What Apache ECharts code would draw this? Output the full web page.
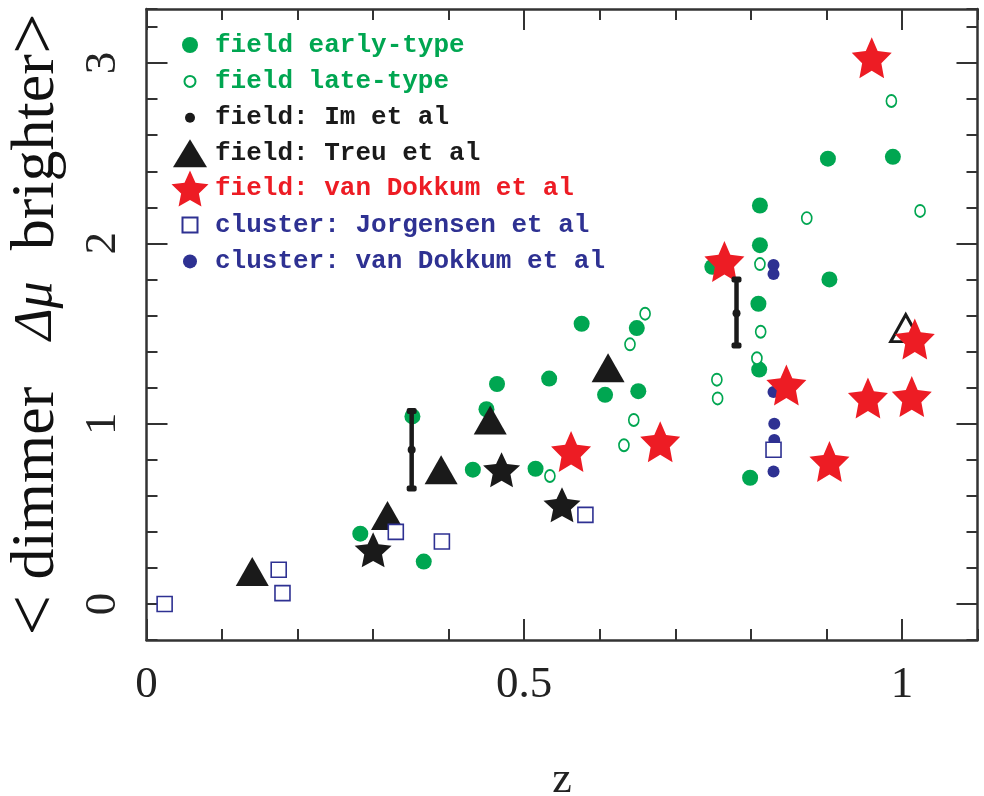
<!DOCTYPE html>
<html><head><meta charset="utf-8">
<script src="https://cdn.jsdelivr.net/npm/echarts@6/dist/echarts.min.js"></script>
<style>html,body{margin:0;padding:0;background:#fff}#c{width:984px;height:796px}</style>
</head><body><div id="c"></div>
<script>
// ---- data ----
const legendNames = ['field early-type','field late-type','field: Im et al','field: Treu et al','field: van Dokkum et al','cluster: Jorgensen et al','cluster: van Dokkum et al'];
const xTickLabels = [0, 0.5, 1];
const yTickLabels = [0, 1, 2, 3];

const earlyZ = [0.283,0.367,0.352,0.432,0.450,0.464,0.515,0.533,0.576,0.607,0.649,0.651,0.749,0.799,0.810,0.811,0.812,0.812,0.902,0.904,0.988];
const earlyY = [0.39,0.235,1.04,0.745,1.08,1.22,0.75,1.25,1.554,1.16,1.53,1.18,1.87,0.70,1.665,1.30,1.99,2.21,2.47,1.80,2.48];

const lateZ = [0.534,0.632,0.645,0.640,0.660,0.755,0.756,0.808,0.813,0.812,0.874,0.986,1.024];
const lateY = [0.71,0.88,1.02,1.44,1.61,1.244,1.14,1.363,1.51,1.885,2.14,2.79,2.18];

const imZ  = [0.351,0.781];
const imY  = [0.855,1.613];
const imLo = [0.64,1.433];
const imHi = [1.07,1.80];

const treuZ = [0.140,0.319,0.390,0.455,0.611];
const treuY = [0.18,0.49,0.745,1.02,1.31];
const treuOpenZ = [1.005];
const treuOpenY = [1.53];

const blackStarZ = [0.300,0.470,0.550];
const blackStarY = [0.30,0.745,0.55];

const vdFieldZ = [0.562,0.680,0.765,0.847,0.904,0.955,0.960,1.013,1.017];
const vdFieldY = [0.846,0.90,1.90,1.215,0.79,1.143,3.03,1.15,1.47];

const jorgZ = [0.024,0.175,0.180,0.330,0.391,0.581,0.830];
const jorgY = [0.0,0.19,0.06,0.40,0.346,0.494,0.855];

const vdClusterZ = [0.830,0.830,0.830,0.831,0.831,0.830];
const vdClusterY = [1.88,1.83,1.175,1.0,0.91,0.734];

// ---- styling ----
const GREEN = '#00a651', RED = '#ed1c24', BLUE = '#2e3192', BLACK = '#1a1a1a', AX = '#333';
const zip = (a, b) => a.map((v, i) => [v, b[i]]);

const starPts = [[50,0],[64.11,30.58],[97.55,34.55],[72.83,57.42],[79.39,90.45],[50,74],[20.61,90.45],[27.17,57.42],[2.45,34.55],[35.89,30.58]];
const STAR = 'path://M' + starPts.map(p => p.join(',')).join(' L') + ' Z';

// legend icons: padded paths inside a 40x36 box so they keep their relative sizes
const BW = 40, BH = 36, CX = 20, CY = 18;
const pad = 'M0 0 M' + BW + ' ' + BH + ' ';
const circ = r => 'path://' + pad + `M${CX-r} ${CY} A${r} ${r} 0 1 0 ${CX+r} ${CY} A${r} ${r} 0 1 0 ${CX-r} ${CY} Z`;
const tri = (w, h) => 'path://' + pad + `M${CX} ${CY-h/2} L${CX+w/2} ${CY+h/2} L${CX-w/2} ${CY+h/2} Z`;
const sq = s => 'path://' + pad + `M${CX-s/2} ${CY-s/2} L${CX+s/2} ${CY-s/2} L${CX+s/2} ${CY+s/2} L${CX-s/2} ${CY+s/2} Z`;
const star = (w, h) => 'path://' + pad + 'M' + starPts.map(p => {
  const nx = (p[0]-2.45)/95.1, ny = p[1]/90.45;
  return (CX - w/2 + nx*w).toFixed(2) + ' ' + (CY - h/2 + ny*h).toFixed(2);
}).join(' L') + ' Z';

const legendIcons = [circ(8), circ(5.5), circ(5), tri(34,28), star(37,36), sq(15), circ(7)];
const legendColors = [GREEN, GREEN, BLACK, BLACK, RED, BLUE, BLUE];

const tickFont = {fontFamily: 'Liberation Serif', fontSize: 45, color: '#222'};
const lineS = {color: AX, width: 2.5};
const tickS = {color: AX, width: 2};

function minorAxis(pos, extra) {
  return Object.assign({
    type: 'value', position: pos,
    axisLine: {show: true, onZero: false, lineStyle: lineS},
    axisTick: {show: true, inside: true, length: 11, lineStyle: tickS},
    axisLabel: {show: false}, splitLine: {show: false}
  }, extra);
}
function majorAxis(pos, vals, labelOpt, extra) {
  return Object.assign({
    type: 'value', position: pos,
    axisLine: {show: false, onZero: false},
    axisTick: {show: true, inside: true, length: 21, lineStyle: tickS, customValues: vals},
    axisLabel: Object.assign({customValues: vals}, labelOpt),
    splitLine: {show: false}
  }, extra);
}

const xr = {min: 0, max: 1.1};
const yr = {min: -0.2, max: 3.3};

const option = {
  animation: false,
  backgroundColor: '#fff',
  grid: {left: 146.5, right: 6.5, top: 9, bottom: 156, outerBoundsMode: 'none', containLabel: false},
  legend: {
    orient: 'vertical', left: 169, top: 27, padding: 0,
    itemWidth: BW, itemHeight: BH, itemGap: -0.6,
    textStyle: {fontFamily: 'Liberation Mono', fontSize: 26},
    data: legendNames.map((n, i) => ({
      name: n, icon: legendIcons[i],
      textStyle: {color: legendColors[i], fontWeight: 'bold', fontFamily: 'Liberation Mono', fontSize: 26}
    }))
  },
  xAxis: [
    minorAxis('bottom', Object.assign({interval: 0.1}, xr)),
    majorAxis('bottom', xTickLabels, Object.assign({show: true, margin: 23}, tickFont), Object.assign({
      name: 'z', nameLocation: 'middle', nameGap: 118,
      nameTextStyle: {fontFamily: 'Liberation Serif', fontSize: 44, color: '#222'}
    }, xr)),
    minorAxis('top', Object.assign({interval: 0.1}, xr)),
    majorAxis('top', xTickLabels, {show: false}, xr)
  ],
  yAxis: [
    minorAxis('left', Object.assign({interval: 0.2}, yr)),
    majorAxis('left', yTickLabels, Object.assign({show: true, rotate: 90, margin: 21}, tickFont), Object.assign({
      name: '{c|<}{a| dimmer   }{b|Δμ}{a|  brighter}{c|>}',
      nameLocation: 'middle', nameGap: 52, nameRotate: 90,
      nameTextStyle: {
        color: '#111',
        rich: {
          a: {fontFamily: 'Liberation Serif', fontSize: 62, color: '#111'},
          b: {fontFamily: 'Liberation Serif', fontSize: 54, fontStyle: 'italic', color: '#111'},
          c: {fontFamily: 'Liberation Serif', fontSize: 72, color: '#111'}
        }
      }
    }, yr)),
    minorAxis('right', Object.assign({interval: 0.2}, yr)),
    majorAxis('right', yTickLabels, {show: false}, yr)
  ],
  series: [
    {name: 'field early-type', type: 'scatter', z: 2, symbol: 'circle', symbolSize: 16,
     itemStyle: {color: GREEN, opacity: 1}, data: zip(earlyZ, earlyY)},
    {name: 'field late-type', type: 'scatter', z: 3, symbol: 'circle', symbolSize: [10, 12],
     itemStyle: {color: '#fff', borderColor: GREEN, borderWidth: 1.8, opacity: 1}, data: zip(lateZ, lateY)},
    {name: 'cluster: van Dokkum et al', type: 'scatter', z: 4, symbol: 'circle', symbolSize: 12,
     itemStyle: {color: BLUE, opacity: 1}, data: zip(vdClusterZ, vdClusterY)},
    {name: 'field: Treu et al', type: 'scatter', z: 5, symbol: 'triangle', symbolSize: [33, 29],
     itemStyle: {color: BLACK, opacity: 1}, data: zip(treuZ, treuY)},
    {name: 'field: Treu et al', type: 'scatter', z: 5, symbol: 'triangle', symbolSize: [30, 27],
     itemStyle: {color: '#fff', borderColor: BLACK, borderWidth: 3, opacity: 1}, data: zip(treuOpenZ, treuOpenY)},
    {name: 'field (black stars)', type: 'scatter', z: 6, symbol: STAR, symbolSize: [37, 35],
     itemStyle: {color: BLACK, opacity: 1}, data: zip(blackStarZ, blackStarY)},
    {name: 'field: van Dokkum et al', type: 'scatter', z: 7, symbol: STAR, symbolSize: [40, 41],
     itemStyle: {color: RED, opacity: 1}, data: zip(vdFieldZ, vdFieldY)},
    {name: 'cluster: Jorgensen et al', type: 'scatter', z: 8, symbol: 'rect', symbolSize: 15,
     itemStyle: {color: '#fff', borderColor: BLUE, borderWidth: 1.6, opacity: 1}, data: zip(jorgZ, jorgY)},
    {name: 'field: Im et al (error)', type: 'custom', z: 9,
     encode: {x: 0, y: 1},
     data: imZ.map((z, i) => [z, imY[i], imLo[i], imHi[i]]),
     renderItem: function (params, api) {
       const lo = api.coord([api.value(0), api.value(2)]);
       const hi = api.coord([api.value(0), api.value(3)]);
       return {type: 'group', children: [
         {type: 'line', shape: {x1: lo[0], y1: lo[1], x2: hi[0], y2: hi[1]}, style: {stroke: BLACK, lineWidth: 4.5}},
         {type: 'rect', shape: {x: lo[0]-5, y: lo[1]-3, width: 10, height: 6, r: 2}, style: {fill: BLACK}},
         {type: 'rect', shape: {x: hi[0]-5, y: hi[1]-3, width: 10, height: 6, r: 2}, style: {fill: BLACK}}
       ]};
     }},
    {name: 'field: Im et al', type: 'scatter', z: 10, symbol: 'circle', symbolSize: 8,
     itemStyle: {color: BLACK, opacity: 1}, data: zip(imZ, imY)}
  ]
};

const chart = echarts.init(document.getElementById('c'), null, {renderer: 'canvas'});
chart.setOption(option);
</script>
</body></html>
